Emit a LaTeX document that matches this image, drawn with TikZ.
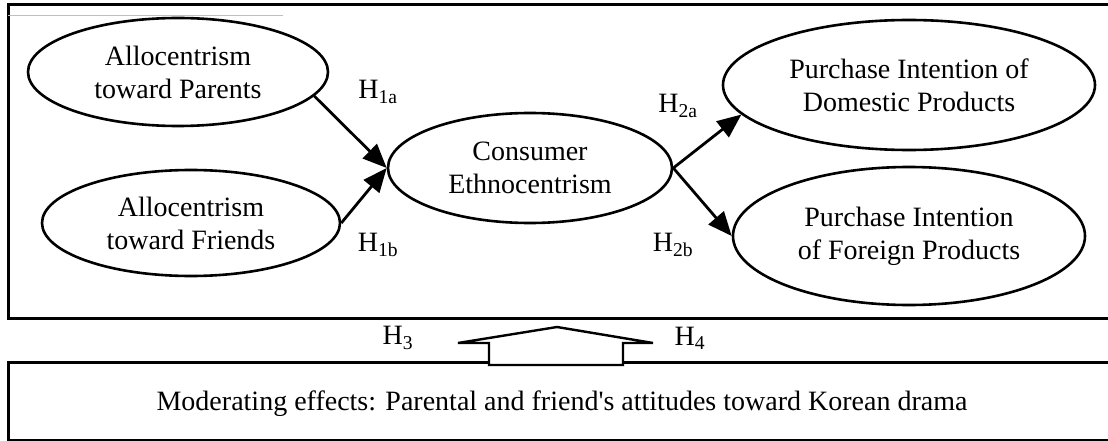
\documentclass[tikz,border=0pt]{standalone}
\usepackage{fontspec}
\setmainfont{Liberation Serif}
\usepackage{tikz}
\usetikzlibrary{shapes,arrows.meta}
\newcommand{\bodyfont}{\fontsize{28}{33}\selectfont}
\tikzstyle{latent} = [ellipse, draw, line width=2.6pt, inner sep=0pt,
    align=center, font=\bodyfont]
\tikzstyle{line} = [draw, line width=2.8pt, -{Triangle[length=24pt,width=20pt]}]
\tikzstyle{hyp} = [inner sep=0pt, font=\bodyfont]
\tikzstyle{frame} = [draw, line width=3pt]
\tikzstyle{blockarrow} = [draw, line width=2.4pt, fill=white]

\begin{document}
\begin{tikzpicture}
[x=1pt, y=-1pt, node distance=150pt]
\useasboundingbox (0,0) rectangle (1108,441);
    % Frames
    \draw [frame] (8,5) rectangle (1120,318);
    \draw [gray!50, line width=0.8pt] (8,15) -- (283,15);
    \draw [frame] (8,362) rectangle (1120,440);

    % Place nodes
    \node [latent, minimum width=300pt, minimum height=108pt] (parents) at (178,72) {Allocentrism\\toward Parents};
    \node [latent, minimum width=298pt, minimum height=106pt, below of=parents, xshift=13pt, yshift=-1pt] (friends) {Allocentrism\\toward Friends};
    \node [latent, minimum width=284pt, minimum height=110pt] (consumer) at (530,168) {Consumer\\Ethnocentrism};
    \node [latent, minimum width=372pt, minimum height=130pt] (domestic) at (909,85) {Purchase Intention of\\Domestic Products};
    \node [latent, minimum width=352pt, minimum height=138pt, below of=domestic, yshift=-1pt] (foreign) {Purchase Intention\\of Foreign Products};

    \node [hyp] (h1a) at (378,92) {H\textsubscript{1a}};
    \node [hyp] (h1b) at (378,245) {H\textsubscript{1b}};
    \node [hyp] (h2a) at (678,106) {H\textsubscript{2a}};
    \node [hyp] (h2b) at (673,245) {H\textsubscript{2b}};
    \node [hyp] (h3) at (398,338) {H\textsubscript{3}};
    \node [hyp] (h4) at (690,338) {H\textsubscript{4}};

    \node [font=\bodyfont] (moderator) at (562,404) {Moderating effects: Parental and friend\textquotesingle s attitudes toward Korean drama};

    % Draw edges
    \path [line] (parents.-10) -- (consumer.west);
    \path [line] (friends.east) -- (consumer.west);
    \path [line] (consumer.east) -- (domestic.190);
    \path [line] (consumer.east) -- (foreign.west);

    % Moderating arrow
    \draw [blockarrow] (458,343) -- (557,327) -- (653,343) -- (623,343) -- (623,365)
        -- (489,365) -- (489,343) -- cycle;
\end{tikzpicture}
\end{document}
